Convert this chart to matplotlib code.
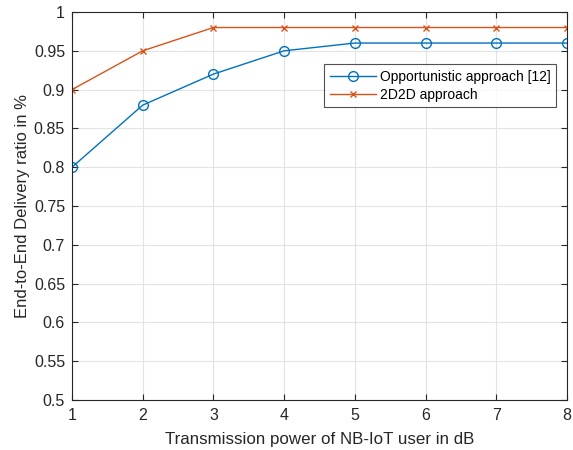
import matplotlib
matplotlib.use("Agg")
import matplotlib.pyplot as plt

x = [1, 2, 3, 4, 5, 6, 7, 8]
opportunistic = [0.80, 0.88, 0.92, 0.95, 0.96, 0.96, 0.96, 0.96]
d2d = [0.90, 0.95, 0.98, 0.98, 0.98, 0.98, 0.98, 0.98]
yticks = [0.5, 0.55, 0.6, 0.65, 0.7, 0.75, 0.8, 0.85, 0.9, 0.95, 1]
ytick_labels = ["0.5", "0.55", "0.6", "0.65", "0.7", "0.75", "0.8", "0.85", "0.9", "0.95", "1"]

plt.rcParams['font.family'] = ['Liberation Sans', 'DejaVu Sans']

fig = plt.figure(figsize=(5.73, 4.5), dpi=100)
ax = fig.add_axes([72/573, 50/450, (567-72)/573, (400-12)/450])

ax.plot(x, opportunistic, color='#0072BD', marker='o', markersize=7, markerfacecolor='none',
        markeredgewidth=1.0, linewidth=1.0, label='Opportunistic approach [12]')
ax.plot(x, d2d, color='#D95319', marker='x', markersize=5, markeredgewidth=1.0,
        linewidth=1.0, label='2D2D approach')

ax.set_xlim(1, 8)
ax.set_ylim(0.5, 1)
ax.set_xticks(x)
ax.set_yticks(yticks)
ax.set_yticklabels(ytick_labels)
ax.grid(True, color='#e3e3e3', linewidth=0.8)
ax.set_axisbelow(True)
ax.tick_params(direction='in', top=True, right=True, labelsize=11.5, colors='#262626', length=4)
ax.tick_params(axis='x', pad=6)
ax.tick_params(axis='y', pad=5)
for s in ax.spines.values():
    s.set_color('#262626')
    s.set_linewidth(0.8)

ax.set_xlabel('Transmission power of NB-IoT user in dB', fontsize=12.2, color='#262626', labelpad=6)
ax.set_ylabel('End-to-End Delivery ratio in %', fontsize=12, color='#262626', labelpad=3)

leg = ax.legend(loc='upper right', bbox_to_anchor=(556/573, 1 - 64/450), bbox_transform=fig.transFigure,
                fontsize=10, frameon=True, fancybox=False, edgecolor='#262626',
                borderpad=0.4, handlelength=3.3, labelspacing=0.3, borderaxespad=0,
                handletextpad=0.3)
leg.get_frame().set_linewidth(0.8)

fig.savefig('out.png', dpi=100)
